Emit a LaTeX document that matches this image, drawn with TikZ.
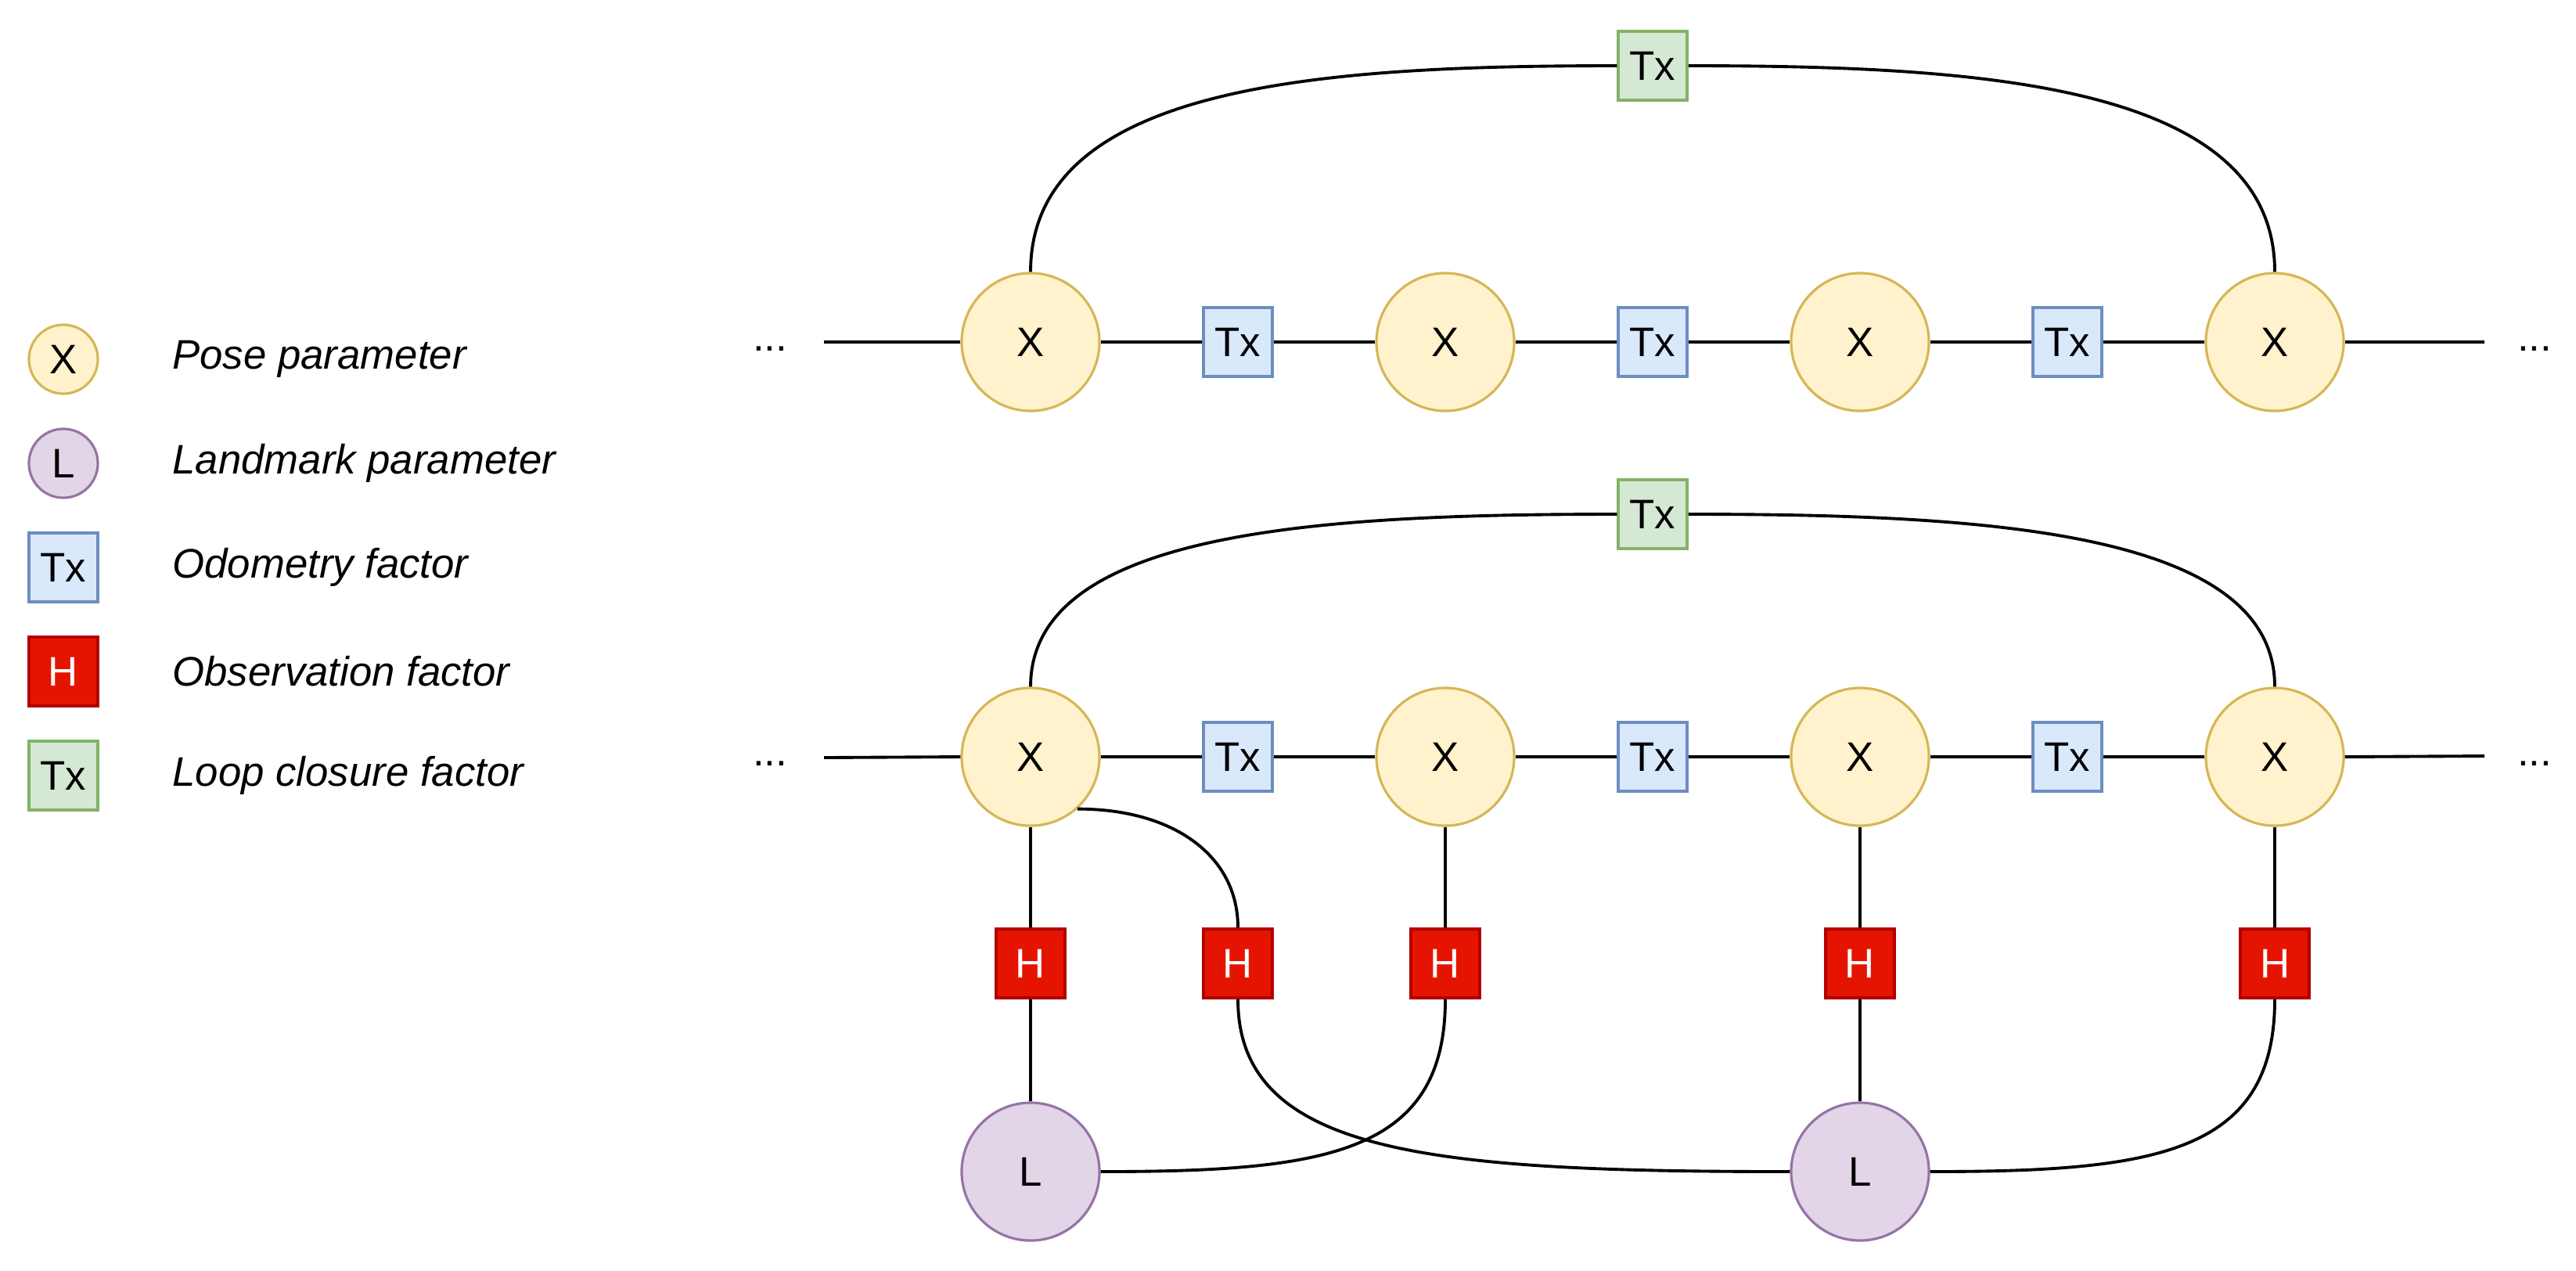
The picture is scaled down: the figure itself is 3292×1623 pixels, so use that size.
\documentclass[tikz,border=0pt]{standalone}
\usepackage{fontspec}
\setmainfont{Liberation Sans}

\definecolor{poseFill}{HTML}{FFF2CC}
\definecolor{poseLine}{HTML}{D6B656}
\definecolor{markFill}{HTML}{E1D5E7}
\definecolor{markLine}{HTML}{9673A6}
\definecolor{odoFill}{HTML}{DAE8FC}
\definecolor{odoLine}{HTML}{6C8EBF}
\definecolor{obsFill}{HTML}{E51400}
\definecolor{obsLine}{HTML}{B20000}
\definecolor{loopFill}{HTML}{D5E8D4}
\definecolor{loopLine}{HTML}{82B366}

\begin{document}
\begin{tikzpicture}[x=0.01cm, y=-0.01cm,
        every node/.style={font=\fontsize{15}{18}\selectfont},
        pose/.style={circle, draw=poseLine, fill=poseFill, line width=0.9pt, minimum size=1.76cm, inner sep=0pt},
        landmark/.style={circle, draw=markLine, fill=markFill, line width=0.9pt, minimum size=1.76cm, inner sep=0pt},
        odo/.style={rectangle, draw=odoLine, fill=odoFill, line width=1pt, minimum size=0.88cm, inner sep=0pt},
        obs/.style={rectangle, draw=obsLine, fill=obsFill, text=white, line width=1pt, minimum size=0.88cm, inner sep=0pt},
        closure/.style={rectangle, draw=loopLine, fill=loopFill, line width=1pt, minimum size=0.88cm, inner sep=0pt},
        legsmall/.style={minimum size=0.88cm},
        legtext/.style={anchor=west, font=\fontsize{15}{18}\selectfont\itshape},
        link/.style={line width=1.1pt}]

    \useasboundingbox (0,0) rectangle (3292,1623);

        % Legende
        \begin{scope}
            \node[pose, legsmall] (legX) at (81,459) {X};
            \node[landmark, legsmall] (legL) at (81,592) {L};
            \node[odo] (legT) at (81,725) {Tx};
            \node[obs] (legH) at (81,858) {H};
            \node[closure] (legC) at (81,991) {Tx};

            \node[legtext] (legXtxt) at (208,459) {Pose parameter};
            \node[legtext] (legLtxt) at (208,592) {Landmark parameter};
            \node[legtext] (legTtxt) at (208,725) {Odometry factor};
            \node[legtext] (legHtxt) at (208,858) {Observation factor};
            \node[legtext] (legCtxt) at (208,991) {Loop closure factor};
        \end{scope}

        % Kette oben
        \begin{scope}
            \node[pose] (pa1) at (1317,437) {X};
            \node[pose] (pa2) at (1847,437) {X};
            \node[pose] (pa3) at (2377,437) {X};
            \node[pose] (pa4) at (2907,437) {X};

            \node[odo] (ta1) at (1582,437) {Tx};
            \node[odo] (ta2) at (2112,437) {Tx};
            \node[odo] (ta3) at (2642,437) {Tx};

            \node[closure] (loopA) at (2112,84) {Tx};

            \node (dotsAl) at (984,446) {...};
            \node (dotsAr) at (3239,446) {...};
            \coordinate (endAl) at (1053,437);
            \coordinate (endAr) at (3175,437);

            \draw[link] (endAl) -- (pa1.west);
            \draw[link] (pa1.east) -- (ta1.west);
            \draw[link] (ta1.east) -- (pa2.west);
            \draw[link] (pa2.east) -- (ta2.west);
            \draw[link] (ta2.east) -- (pa3.west);
            \draw[link] (pa3.east) -- (ta3.west);
            \draw[link] (ta3.east) -- (pa4.west);
            \draw[link] (pa4.east) -- (endAr);

            % Schleife
            \draw[link] (pa1.north) .. controls +(0,-240) and +(-375,0) .. (loopA.west);
            \draw[link] (loopA.east) .. controls +(375,0) and +(0,-240) .. (pa4.north);
        \end{scope}

        % Kette unten
        \begin{scope}
            \node[pose] (pb1) at (1317,967) {X};
            \node[pose] (pb2) at (1847,967) {X};
            \node[pose] (pb3) at (2377,967) {X};
            \node[pose] (pb4) at (2907,967) {X};

            \node[odo] (tb1) at (1582,967) {Tx};
            \node[odo] (tb2) at (2112,967) {Tx};
            \node[odo] (tb3) at (2642,967) {Tx};

            \node[closure] (loopB) at (2112,657) {Tx};

            \node (dotsBl) at (984,976) {...};
            \node (dotsBr) at (3239,976) {...};
            \coordinate (endBl) at (1053,968);
            \coordinate (endBr) at (3175,966);

            \draw[link] (endBl) -- (pb1.west);
            \draw[link] (pb1.east) -- (tb1.west);
            \draw[link] (tb1.east) -- (pb2.west);
            \draw[link] (pb2.east) -- (tb2.west);
            \draw[link] (tb2.east) -- (pb3.west);
            \draw[link] (pb3.east) -- (tb3.west);
            \draw[link] (tb3.east) -- (pb4.west);
            \draw[link] (pb4.east) -- (endBr);

            % Schleife
            \draw[link] (pb1.north) .. controls +(0,-200) and +(-375,0) .. (loopB.west);
            \draw[link] (loopB.east) .. controls +(375,0) and +(0,-200) .. (pb4.north);
        \end{scope}

        % Beobachtungen
        \begin{scope}
            \node[obs] (h1) at (1317,1231) {H};
            \node[obs] (h2) at (1582,1231) {H};
            \node[obs] (h3) at (1847,1231) {H};
            \node[obs] (h4) at (2377,1231) {H};
            \node[obs] (h5) at (2907,1231) {H};

            \node[landmark] (l1) at (1317,1497) {L};
            \node[landmark] (l2) at (2377,1497) {L};

            \draw[link] (pb1.south) -- (h1.north);
            \draw[link] (h1.south) -- (l1.north);
            \draw[link] (pb1.-48) .. controls +(124,0) and +(0,-91) .. (h2.north);
            \draw[link] (h2.south) .. controls +(0,198) and +(-458,0) .. (l2.west);
            \draw[link] (pb2.south) -- (h3.north);
            \draw[link] (h3.south) .. controls +(0,198) and +(287,0) .. (l1.east);
            \draw[link] (pb3.south) -- (h4.north);
            \draw[link] (h4.south) -- (l2.north);
            \draw[link] (pb4.south) -- (h5.north);
            \draw[link] (h5.south) .. controls +(0,198) and +(287,0) .. (l2.east);
        \end{scope}
    \end{tikzpicture}
\end{document}
